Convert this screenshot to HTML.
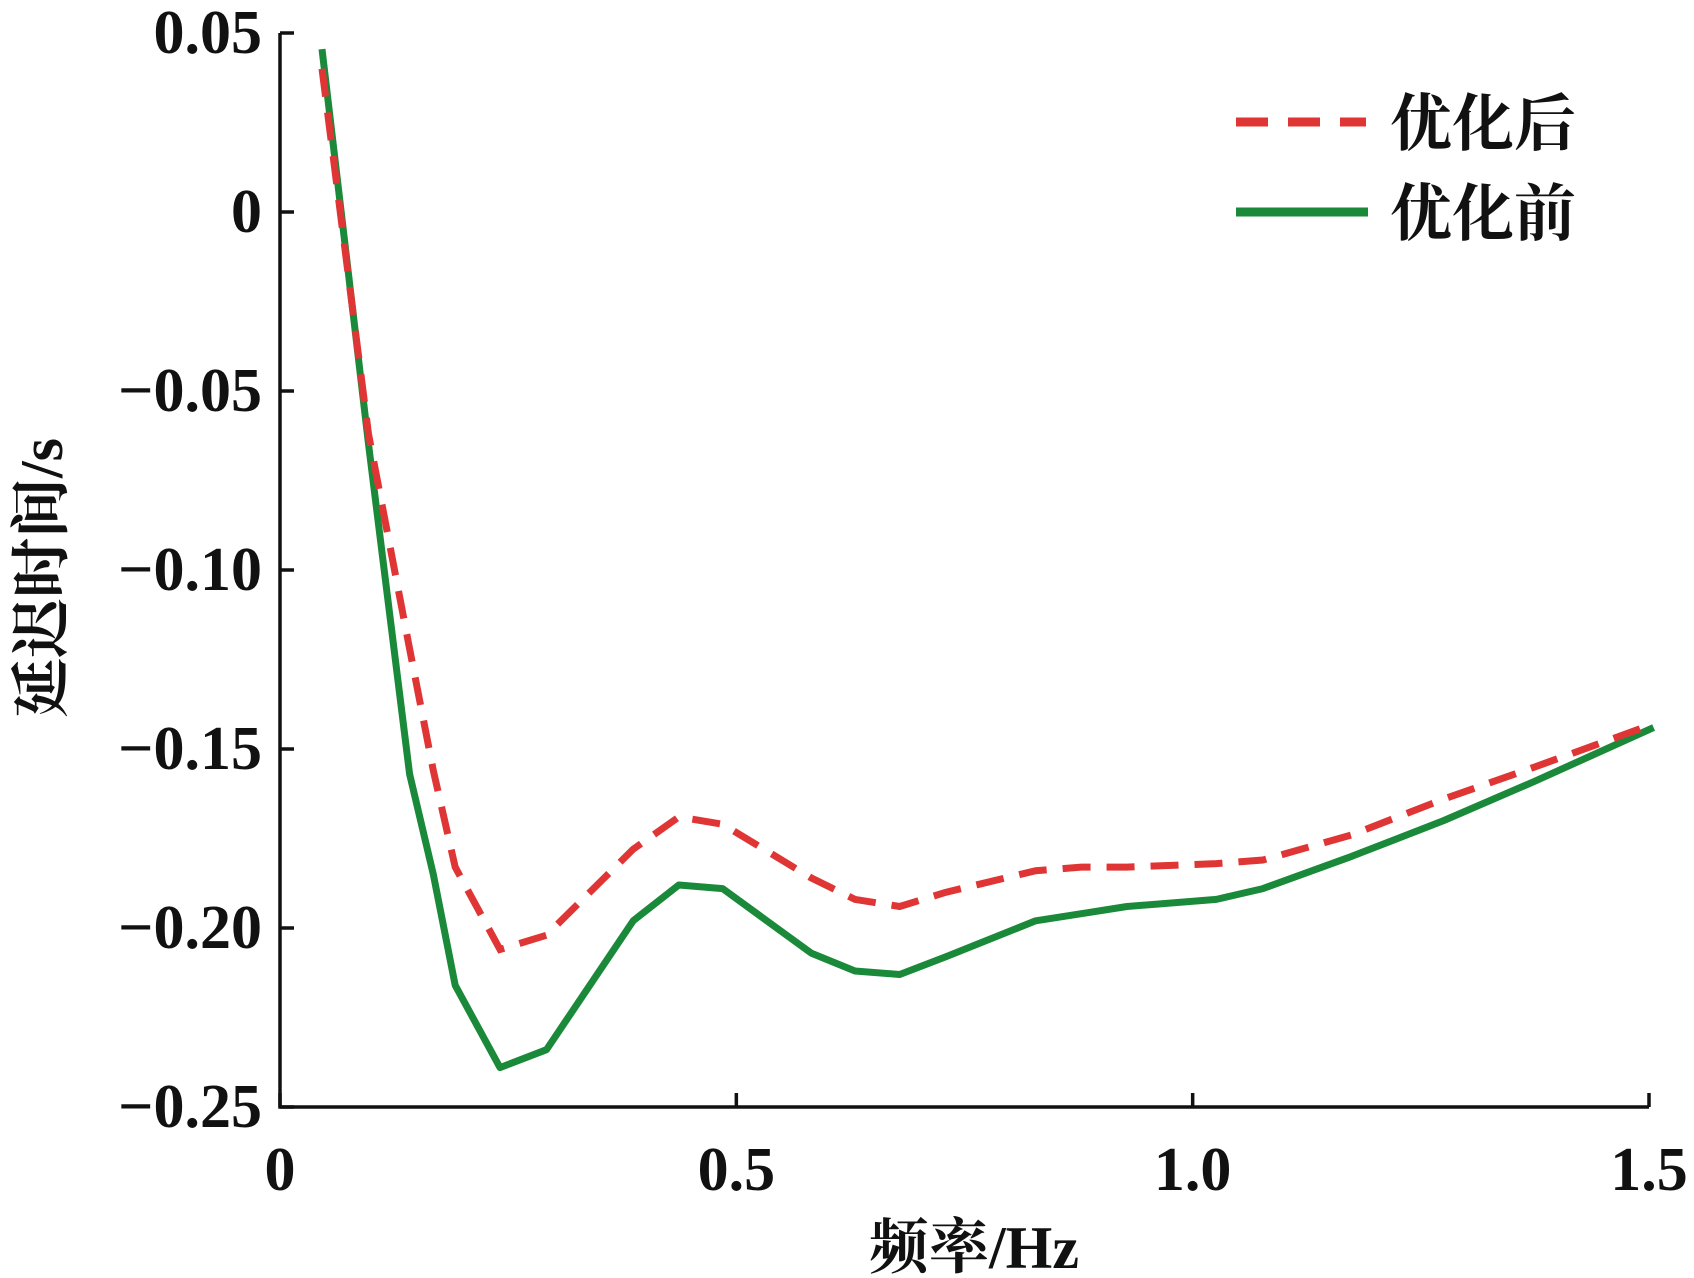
<!DOCTYPE html>
<html><head><meta charset="utf-8"><style>html,body{margin:0;padding:0;background:#fff}svg{display:block}</style></head>
<body>
<svg id="chart" width="1694" height="1278" viewBox="0 0 1694 1278" xmlns="http://www.w3.org/2000/svg"></svg>
<script>
const freqs = [0.046,0.097,0.142,0.168,0.192,0.241,0.292,0.387,0.437,0.485,0.582,0.630,0.679,0.730,0.828,0.878,0.928,1.026,1.077,1.174,1.275,1.375,1.505];
const afterVals = [0.040,-0.062,-0.122,-0.156,-0.183,-0.206,-0.202,-0.178,-0.169,-0.171,-0.186,-0.192,-0.194,-0.190,-0.184,-0.183,-0.183,-0.182,-0.181,-0.174,-0.164,-0.155,-0.143];
const beforeVals = [0.0455,-0.0648,-0.157,-0.185,-0.216,-0.239,-0.234,-0.198,-0.188,-0.189,-0.207,-0.212,-0.213,-0.208,-0.198,-0.196,-0.194,-0.192,-0.189,-0.180,-0.170,-0.159,-0.144];
const xTicks = [0,0.5,1.0,1.5];
const xTickLabels = ["0","0.5","1.0","1.5"];
const yTicks = [0.05,0,-0.05,-0.10,-0.15,-0.20,-0.25];
const yTickLabels = ["0.05","0","\u22120.05","\u22120.10","\u22120.15","\u22120.20","\u22120.25"];

const NS="http://www.w3.org/2000/svg";
const svg=document.getElementById('chart');
const X0=280,X1=1649,Y0=33,Y1=1107;
const xs=f=>X0+(f-0)/(1.5)*(X1-X0);
const ys=v=>Y0+(0.05-v)/0.3*(Y1-Y0);
function mk(tag,attrs,parent){const e=document.createElementNS(NS,tag);for(const k in attrs)e.setAttribute(k,attrs[k]);(parent||svg).appendChild(e);return e;}
const serif='"Liberation Serif", "Noto Serif CJK SC", serif';

let a=mk('path',{d:`M${X0},${Y0} V${Y1} H${X1}`,fill:'none',stroke:'#111','stroke-width':3.5});



xTicks.forEach((t,i)=>{
  const x=xs(t);
  let l=mk('line',{x1:x,y1:Y1,x2:x,y2:Y1-14,stroke:'#111','stroke-width':3.5});
  
  
  let tx=mk('text',{x:x,y:1190,'text-anchor':'middle','font-family':serif,'font-size':62,'font-weight':'bold',fill:'#111'});
  tx.textContent=xTickLabels[i];
  
  
});
yTicks.forEach((t,i)=>{
  const y=ys(t);
  let l=mk('line',{x1:X0,y1:y,x2:X0+14,y2:y,stroke:'#111','stroke-width':3.5});
  
  
  let tx=mk('text',{x:262,y:y+20,'text-anchor':'end','font-family':serif,'font-size':62,'font-weight':'bold',fill:'#111'});
  tx.textContent=yTickLabels[i];
  
  
});

function pts(vals){return freqs.map((f,i)=>`${xs(f).toFixed(1)},${ys(vals[i]).toFixed(1)}`).join(' ');}
let g=mk('polyline',{points:pts(beforeVals),fill:'none',stroke:'#1a8a3a','stroke-width':7,'stroke-linejoin':'round'});


let r=mk('polyline',{points:pts(afterVals),fill:'none',stroke:'#e03535','stroke-width':7,'stroke-dasharray':'28,16'});



const cjk='"Liberation Serif", "Noto Serif CJK SC", "Noto Sans CJK SC", serif';
let l1=mk('line',{x1:1236,y1:122,x2:1366,y2:122,stroke:'#e03535','stroke-width':9,'stroke-dasharray':'32,20'});


let t1=mk('text',{x:1390,y:145,'font-family':cjk,'font-size':62,'font-weight':'bold',fill:'#111'});t1.textContent='优化后';


let l2=mk('line',{x1:1236,y1:212,x2:1368,y2:212,stroke:'#1a8a3a','stroke-width':9});


let t2=mk('text',{x:1390,y:235,'font-family':cjk,'font-size':62,'font-weight':'bold',fill:'#111'});t2.textContent='优化前';



let xt=mk('text',{x:974,y:1268,'text-anchor':'middle','font-family':cjk,'font-size':60,'font-weight':'bold',fill:'#111'});xt.textContent='频率/Hz';


let yt=mk('text',{x:0,y:0,'text-anchor':'middle','font-family':cjk,'font-size':60,'font-weight':'bold',fill:'#111',transform:'translate(62,578) rotate(-90)'});yt.textContent='延迟时间/s';


</script>
</body></html>
